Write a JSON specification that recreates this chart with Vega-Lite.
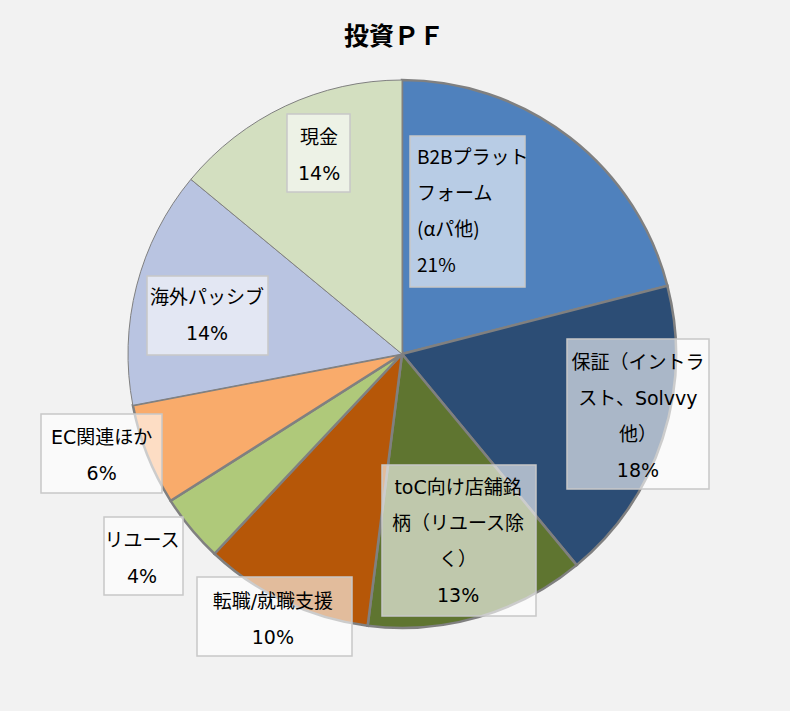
{
  "$schema": "https://vega.github.io/schema/vega-lite/v6.json",
  "description": "投資PF pie",
  "width": 790,
  "height": 711,
  "autosize": {"type": "fit", "contains": "padding"},
  "padding": {"left": 14, "top": 0, "right": 0, "bottom": 3},
  "background": "#F2F2F2",
  "title": {
    "text": "投資ＰＦ",
    "font": "Noto Sans CJK JP",
    "fontSize": 25,
    "fontWeight": "bold",
    "color": "#000000",
    "anchor": "middle",
    "baseline": "middle",
    "offset": -62,
    "dx": -8
  },
  "config": {"view": {"stroke": null}},
  "data": {
    "values": [
      {"key": "b2b", "name": "B2Bプラットフォーム(αパ他)", "value": 21, "order": 1, "label": "B2Bプラット\nフォーム\n(αパ他)\n21%"},
      {"key": "hosho", "name": "保証（イントラスト、Solvvy他）", "value": 18, "order": 2, "label": "保証（イントラ\nスト、Solvvy\n他）\n18%"},
      {"key": "toc", "name": "toC向け店舗銘柄（リユース除く）", "value": 13, "order": 3, "label": "toC向け店舗銘\n柄（リユース除\nく）\n13%"},
      {"key": "tenshoku", "name": "転職/就職支援", "value": 10, "order": 4, "label": "転職/就職支援\n10%"},
      {"key": "reuse", "name": "リユース", "value": 4, "order": 5, "label": "リユース\n4%"},
      {"key": "ec", "name": "EC関連ほか", "value": 6, "order": 6, "label": "EC関連ほか\n6%"},
      {"key": "kaigai", "name": "海外パッシブ", "value": 14, "order": 7, "label": "海外パッシブ\n14%"},
      {"key": "genkin", "name": "現金", "value": 14, "order": 8, "label": "現金\n14%"}
    ]
  },
  "layer": [
    {
      "mark": {"type": "arc", "outerRadius": 274, "stroke": "#808080"},
      "encoding": {
        "theta": {"field": "value", "type": "quantitative", "stack": true},
        "order": {"field": "order", "type": "quantitative"},
        "color": {
          "field": "key",
          "type": "nominal",
          "scale": {
            "domain": ["b2b", "hosho", "toc", "tenshoku", "reuse", "ec", "kaigai", "genkin"],
            "range": ["#4F81BD", "#2C4D75", "#5F7530", "#B65708", "#AFC97A", "#F9AB6B", "#B9C4E1", "#D3DFC0"]
          },
          "legend": null
        },
        "strokeWidth": {
          "condition": {"test": "datum.key === 'kaigai' || datum.key === 'genkin'", "value": 1},
          "value": 2.5
        }
      }
    },
    {
      "mark": {
        "type": "point",
        "filled": true,
        "size": 40000,
        "color": "#FFFFFF",
        "fillOpacity": 0.6,
        "opacity": 1,
        "stroke": "#C8C8C8",
        "strokeWidth": 1.5
      },
      "encoding": {
        "shape": {
          "field": "key",
          "type": "nominal",
          "scale": {
            "domain": ["b2b", "hosho", "toc", "tenshoku", "reuse", "ec", "kaigai", "genkin"],
            "range": [
              "M0.08,-2.18L1.23,-2.18L1.23,-0.67L0.08,-0.67Z",
              "M1.65,-0.15L3.07,-0.15L3.07,1.35L1.65,1.35Z",
              "M-0.2,1.11L1.34,1.11L1.34,2.62L-0.2,2.62Z",
              "M-2.05,2.23L-0.5,2.23L-0.5,3.02L-2.05,3.02Z",
              "M-2.98,1.63L-2.19,1.63L-2.19,2.41L-2.98,2.41Z",
              "M-3.61,0.6L-2.4,0.6L-2.4,1.39L-3.61,1.39Z",
              "M-2.55,-0.78L-1.34,-0.78L-1.34,0.01L-2.55,0.01Z",
              "M-1.15,-2.4L-0.52,-2.4L-0.52,-1.62L-1.15,-1.62Z"
            ]
          },
          "legend": null
        }
      }
    },
    {
      "mark": {"type": "text", "radius": 196.5, "align": "left", "baseline": "middle", "lineBreak": "\n", "lineHeight": 36, "font": "Noto Sans CJK JP", "fontSize": 19, "color": "#000000"},
      "encoding": {
        "theta": {"field": "value", "type": "quantitative", "stack": true, "bandPosition": 0.0582},
        "order": {"field": "order", "type": "quantitative"},
        "detail": {"field": "key", "type": "nominal"},
        "text": {"condition": {"test": "datum.key === 'b2b'", "field": "label", "type": "nominal"}, "value": ""}
      }
    },
    {
      "mark": {"type": "text", "radius": 236.1, "align": "center", "baseline": "middle", "lineBreak": "\n", "lineHeight": 36, "font": "DejaVu Sans, Noto Sans CJK JP", "fontSize": 19, "color": "#000000"},
      "encoding": {
        "theta": {"field": "value", "type": "quantitative", "stack": true, "bandPosition": 0.2565},
        "order": {"field": "order", "type": "quantitative"},
        "detail": {"field": "key", "type": "nominal"},
        "text": {"condition": {"test": "datum.key === 'hosho'", "field": "label", "type": "nominal"}, "value": ""}
      }
    },
    {
      "mark": {"type": "text", "radius": 145.6, "align": "center", "baseline": "middle", "lineBreak": "\n", "lineHeight": 36, "font": "DejaVu Sans, Noto Sans CJK JP", "fontSize": 19, "color": "#000000"},
      "encoding": {
        "theta": {"field": "value", "type": "quantitative", "stack": true, "bandPosition": 0.362},
        "order": {"field": "order", "type": "quantitative"},
        "detail": {"field": "key", "type": "nominal"},
        "text": {"condition": {"test": "datum.key === 'toc'", "field": "label", "type": "nominal"}, "value": ""}
      }
    },
    {
      "mark": {"type": "text", "radius": 280.0, "align": "center", "baseline": "middle", "lineBreak": "\n", "lineHeight": 36, "font": "DejaVu Sans, Noto Sans CJK JP", "fontSize": 19, "color": "#000000"},
      "encoding": {
        "theta": {"field": "value", "type": "quantitative", "stack": true, "bandPosition": 0.563},
        "order": {"field": "order", "type": "quantitative"},
        "detail": {"field": "key", "type": "nominal"},
        "text": {"condition": {"test": "datum.key === 'tenshoku'", "field": "label", "type": "nominal"}, "value": ""}
      }
    },
    {
      "mark": {"type": "text", "radius": 320.2, "align": "center", "baseline": "middle", "lineBreak": "\n", "lineHeight": 36, "font": "DejaVu Sans, Noto Sans CJK JP", "fontSize": 19, "color": "#000000"},
      "encoding": {
        "theta": {"field": "value", "type": "quantitative", "stack": true, "bandPosition": 0.768},
        "order": {"field": "order", "type": "quantitative"},
        "detail": {"field": "key", "type": "nominal"},
        "text": {"condition": {"test": "datum.key === 'reuse'", "field": "label", "type": "nominal"}, "value": ""}
      }
    },
    {
      "mark": {"type": "text", "radius": 311.8, "align": "center", "baseline": "middle", "lineBreak": "\n", "lineHeight": 36, "font": "DejaVu Sans, Noto Sans CJK JP", "fontSize": 19, "color": "#000000"},
      "encoding": {
        "theta": {"field": "value", "type": "quantitative", "stack": true, "bandPosition": 0.779},
        "order": {"field": "order", "type": "quantitative"},
        "detail": {"field": "key", "type": "nominal"},
        "text": {"condition": {"test": "datum.key === 'ec'", "field": "label", "type": "nominal"}, "value": ""}
      }
    },
    {
      "mark": {"type": "text", "radius": 202.8, "align": "center", "baseline": "middle", "lineBreak": "\n", "lineHeight": 36, "font": "DejaVu Sans, Noto Sans CJK JP", "fontSize": 19, "color": "#000000"},
      "encoding": {
        "theta": {"field": "value", "type": "quantitative", "stack": true, "bandPosition": 0.5315},
        "order": {"field": "order", "type": "quantitative"},
        "detail": {"field": "key", "type": "nominal"},
        "text": {"condition": {"test": "datum.key === 'kaigai'", "field": "label", "type": "nominal"}, "value": ""}
      }
    },
    {
      "mark": {"type": "text", "radius": 231.7, "align": "center", "baseline": "middle", "lineBreak": "\n", "lineHeight": 36, "font": "DejaVu Sans, Noto Sans CJK JP", "fontSize": 19, "color": "#000000"},
      "encoding": {
        "theta": {"field": "value", "type": "quantitative", "stack": true, "bandPosition": 0.584},
        "order": {"field": "order", "type": "quantitative"},
        "detail": {"field": "key", "type": "nominal"},
        "text": {"condition": {"test": "datum.key === 'genkin'", "field": "label", "type": "nominal"}, "value": ""}
      }
    }
  ]
}
